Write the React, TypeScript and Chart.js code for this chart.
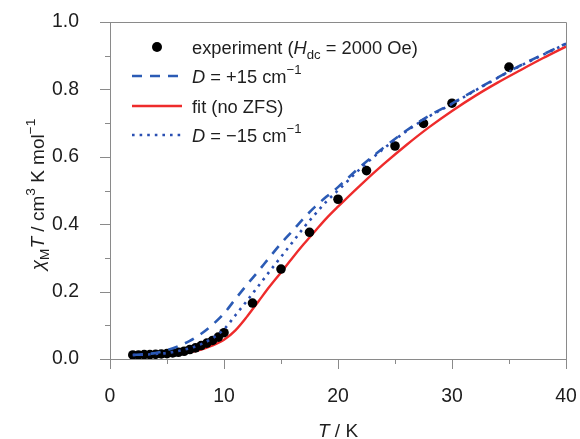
import React, { useEffect, useRef } from 'react';
import { Chart, registerables } from 'chart.js';

Chart.register(...registerables);

// Experimental data (T / K, chi_M T / cm3 K mol-1)
const expT = [2, 2.5, 3, 3.5, 4, 4.5, 5, 5.5, 6, 6.5, 7, 7.5, 8, 8.5, 9, 9.5, 10, 12.5, 15, 17.5, 20, 22.5, 25, 27.5, 30, 35];
const expChi = [0.012, 0.012, 0.013, 0.013, 0.014, 0.015, 0.016, 0.018, 0.02, 0.023, 0.028, 0.033, 0.04, 0.047, 0.055, 0.065, 0.078, 0.166, 0.267, 0.376, 0.474, 0.559, 0.632, 0.699, 0.759, 0.866];

// Simulated curves
const curveT = [2, 3, 4, 5, 6, 7, 8, 9, 10, 11, 12, 13, 14, 15, 16, 17, 18, 19, 20, 22, 24, 26, 28, 30, 32, 34, 36, 38, 40];
const fitChi = [0.011, 0.012, 0.013, 0.014, 0.016, 0.02, 0.028, 0.04, 0.057, 0.085, 0.125, 0.17, 0.215, 0.257, 0.3, 0.341, 0.38, 0.418, 0.452, 0.517, 0.578, 0.635, 0.688, 0.736, 0.78, 0.82, 0.857, 0.893, 0.927];
const dPlusChi = [0.012, 0.014, 0.018, 0.026, 0.038, 0.054, 0.075, 0.102, 0.135, 0.178, 0.22, 0.26, 0.302, 0.343, 0.38, 0.418, 0.452, 0.482, 0.51, 0.572, 0.627, 0.678, 0.722, 0.758, 0.797, 0.835, 0.871, 0.904, 0.936];
const dMinusChi = [0.012, 0.013, 0.015, 0.018, 0.024, 0.032, 0.044, 0.062, 0.088, 0.13, 0.172, 0.216, 0.26, 0.303, 0.346, 0.39, 0.43, 0.468, 0.5, 0.566, 0.624, 0.676, 0.72, 0.757, 0.796, 0.834, 0.87, 0.903, 0.935];

const xMajor = [0, 10, 20, 30, 40];
const xMinor = [5, 15, 25, 35];
const yMajor = [0, 0.2, 0.4, 0.6, 0.8, 1.0];
const yMinor = [0.1, 0.3, 0.5, 0.7, 0.9];

const BLUE = '#2b5bb5';
const BLUE_DOT = '#2a4fb2';
const RED = '#ee2b2b';
const AXIS = '#8a8a8a';
const TEXT = '#1e1e1e';
const FAMILY = '"Liberation Sans", Arial, Helvetica, sans-serif';
const FS = 18.3;
const TICK_FS = 19.4;
const TITLE_FS = 19;

type Part = { t: string; it?: boolean; sub?: boolean; sup?: boolean };

function fontFor(p: Part, base: number) {
  const size = p.sub || p.sup ? base * 0.72 : base;
  return `${p.it ? 'italic ' : ''}${size}px ${FAMILY}`;
}

function drawRich(ctx: CanvasRenderingContext2D, parts: Part[], x: number, y: number, align: 'left' | 'center', base: number) {
  let total = 0;
  for (const p of parts) {
    ctx.font = fontFor(p, base);
    total += ctx.measureText(p.t).width;
  }
  let cx = align === 'center' ? x - total / 2 : x;
  ctx.textAlign = 'left';
  ctx.textBaseline = 'alphabetic';
  for (const p of parts) {
    ctx.font = fontFor(p, base);
    const dy = p.sub ? base * 0.28 : p.sup ? -base * 0.45 : 0;
    ctx.fillText(p.t, cx, y + dy);
    cx += ctx.measureText(p.t).width;
  }
}

const decorPlugin = {
  id: 'decor',
  afterDraw(chart: any) {
    const ctx: CanvasRenderingContext2D = chart.ctx;
    const xs = chart.scales.x;
    const ys = chart.scales.y;
    const { left, right, top, bottom } = chart.chartArea;
    ctx.save();
    // frame and ticks
    ctx.strokeStyle = AXIS;
    ctx.lineWidth = 1;
    ctx.beginPath();
    ctx.moveTo(left, top + 0.5);
    ctx.lineTo(right + 0.5, top + 0.5);
    ctx.lineTo(right + 0.5, bottom);
    for (const v of xMajor) {
      const px = Math.round(xs.getPixelForValue(v)) + 0.5;
      ctx.moveTo(px, bottom);
      ctx.lineTo(px, bottom + 10);
    }
    for (const v of xMinor) {
      const px = Math.round(xs.getPixelForValue(v)) + 0.5;
      ctx.moveTo(px, bottom);
      ctx.lineTo(px, bottom + 5);
    }
    for (const v of yMajor) {
      const py = Math.round(ys.getPixelForValue(v)) + 0.5;
      ctx.moveTo(left, py);
      ctx.lineTo(left - 10, py);
    }
    for (const v of yMinor) {
      const py = Math.round(ys.getPixelForValue(v)) + 0.5;
      ctx.moveTo(left, py);
      ctx.lineTo(left - 5, py);
    }
    ctx.stroke();

    ctx.fillStyle = TEXT;
    // x title
    drawRich(ctx, [{ t: 'T', it: true }, { t: ' / K' }], (left + right) / 2, 437, 'center', TITLE_FS);
    // y title
    ctx.save();
    ctx.translate(44, (top + bottom) / 2 + 4);
    ctx.rotate(-Math.PI / 2);
    drawRich(
      ctx,
      [
        { t: 'χ', it: true },
        { t: 'M', sub: true },
        { t: 'T', it: true },
        { t: ' / cm' },
        { t: '3', sup: true },
        { t: ' K mol' },
        { t: '−1', sup: true },
      ],
      0,
      0,
      'center',
      TITLE_FS
    );
    ctx.restore();

    // legend
    const lx0 = 132;
    const lx1 = 182;
    const tx = 192;
    const rows = [47, 76, 106, 135];
    ctx.fillStyle = '#000';
    ctx.beginPath();
    ctx.arc(157, rows[0], 5, 0, Math.PI * 2);
    ctx.fill();
    ctx.lineWidth = 2.6;
    ctx.strokeStyle = BLUE;
    ctx.setLineDash([10, 8]);
    ctx.beginPath();
    ctx.moveTo(lx0, rows[1]);
    ctx.lineTo(lx1, rows[1]);
    ctx.stroke();
    ctx.setLineDash([]);
    ctx.strokeStyle = RED;
    ctx.lineWidth = 2.4;
    ctx.beginPath();
    ctx.moveTo(lx0, rows[2]);
    ctx.lineTo(lx1, rows[2]);
    ctx.stroke();
    ctx.strokeStyle = BLUE_DOT;
    ctx.lineWidth = 2.6;
    ctx.setLineDash([2.6, 5]);
    ctx.beginPath();
    ctx.moveTo(lx0, rows[3]);
    ctx.lineTo(lx1, rows[3]);
    ctx.stroke();
    ctx.setLineDash([]);

    ctx.fillStyle = TEXT;
    const off = 6.5;
    drawRich(ctx, [{ t: 'experiment (' }, { t: 'H', it: true }, { t: 'dc', sub: true }, { t: ' = 2000 Oe)' }], tx, rows[0] + off, 'left', FS);
    drawRich(ctx, [{ t: 'D', it: true }, { t: ' = +15 cm' }, { t: '−1', sup: true }], tx, rows[1] + off, 'left', FS);
    drawRich(ctx, [{ t: 'fit (no ZFS)' }], tx, rows[2] + off, 'left', FS);
    drawRich(ctx, [{ t: 'D', it: true }, { t: ' = −15 cm' }, { t: '−1', sup: true }], tx, rows[3] + off, 'left', FS);
    ctx.restore();
  },
};

export default function App() {
  const ref = useRef<HTMLCanvasElement | null>(null);
  useEffect(() => {
    if (!ref.current) return;
    const toXY = (xs: number[], ys: number[]) => xs.map((x, i) => ({ x, y: ys[i] }));
    const chart = new Chart(ref.current, {
      type: 'scatter',
      data: {
        datasets: [
          {
            label: 'D = -15',
            data: toXY(curveT, dMinusChi),
            showLine: true,
            borderColor: BLUE_DOT,
            borderWidth: 2.6,
            borderDash: [2.6, 5],
            pointRadius: 0,
            cubicInterpolationMode: 'monotone',
            order: 0,
          },
          {
            label: 'D = +15',
            data: toXY(curveT, dPlusChi),
            showLine: true,
            borderColor: BLUE,
            borderWidth: 2.6,
            borderDash: [10, 8],
            pointRadius: 0,
            cubicInterpolationMode: 'monotone',
            order: 1,
          },
          {
            label: 'experiment',
            data: toXY(expT, expChi),
            showLine: false,
            backgroundColor: '#000',
            borderColor: '#000',
            pointRadius: 4.8,
            pointBorderWidth: 0,
            order: 2,
          },
          {
            label: 'fit',
            data: toXY(curveT, fitChi),
            showLine: true,
            borderColor: RED,
            borderWidth: 2.4,
            pointRadius: 0,
            cubicInterpolationMode: 'monotone',
            order: 3,
          },
        ],
      },
      options: {
        animation: false,
        responsive: false,
        maintainAspectRatio: false,
        layout: { padding: { left: 0, right: 14, top: 22, bottom: 0 } },
        plugins: { legend: { display: false }, tooltip: { enabled: false } },
        scales: {
          x: {
            type: 'linear',
            min: 0,
            max: 40,
            grid: { display: false },
            border: { display: true, color: AXIS, width: 1 },
            ticks: {
              stepSize: 10,
              padding: 18,
              color: TEXT,
              font: { family: FAMILY, size: TICK_FS },
              maxRotation: 0,
            },
            afterFit: (s: any) => {
              s.height = 80;
              s.paddingLeft = 0;
              s.paddingRight = 0;
            },
          },
          y: {
            type: 'linear',
            min: 0,
            max: 1,
            grid: { display: false },
            border: { display: true, color: AXIS, width: 1 },
            ticks: {
              stepSize: 0.2,
              padding: 23,
              color: TEXT,
              font: { family: FAMILY, size: TICK_FS },
              callback: (v: any) => Number(v).toFixed(1),
            },
            afterFit: (s: any) => {
              s.width = 110;
              s.paddingTop = 0;
              s.paddingBottom = 0;
            },
          },
        },
      } as any,
      plugins: [decorPlugin],
    });
    return () => chart.destroy();
  }, []);
  return (
    <div style={{ position: 'fixed', left: 0, top: 0, width: 580, height: 439, background: '#fff' }}>
      <canvas ref={ref} width={580} height={439} style={{ width: 580, height: 439 }} />
    </div>
  );
}
